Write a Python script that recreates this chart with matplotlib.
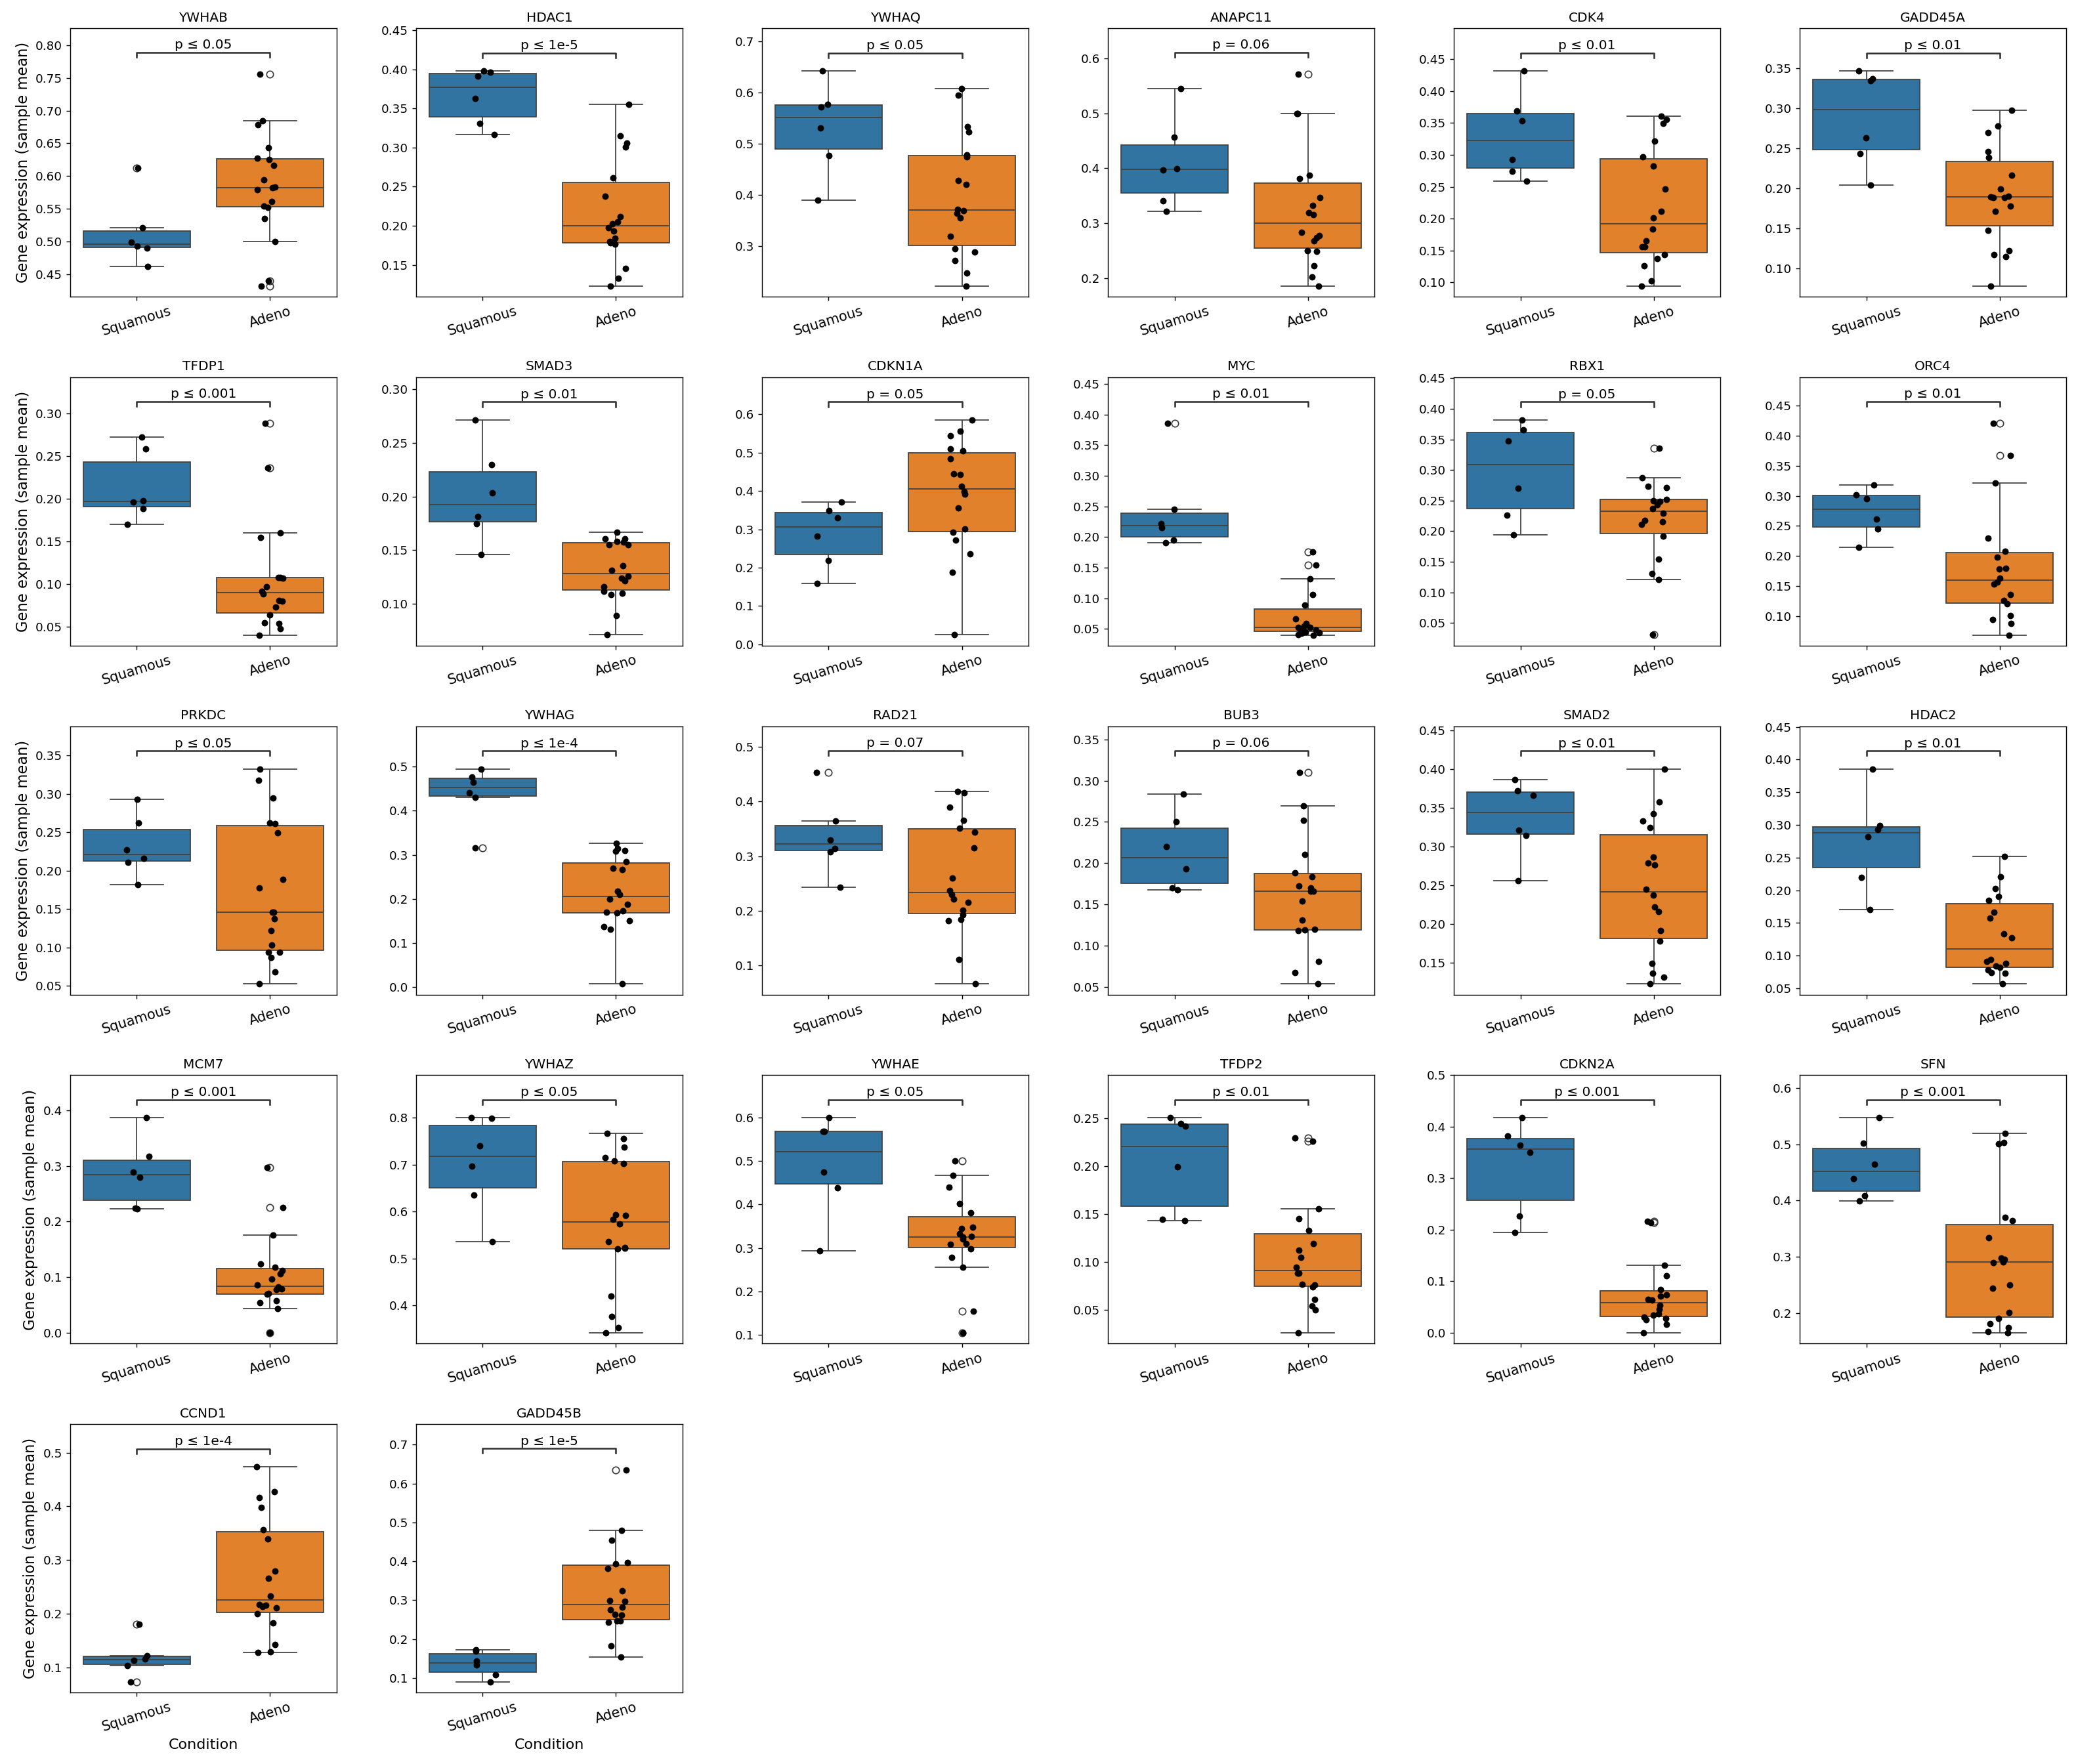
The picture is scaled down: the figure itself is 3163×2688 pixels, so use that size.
import numpy as np
import pandas as pd
import matplotlib
matplotlib.use('Agg')
import matplotlib.pyplot as plt
import seaborn as sns

# sample-mean expression per gene, 6 squamous and 18 adeno samples
YWHAB_SQ = [0.612, 0.521, 0.499, 0.493, 0.490, 0.462]
YWHAB_AD = [0.7556, 0.6844, 0.6786, 0.6437, 0.627, 0.625, 0.6166, 0.5946, 0.583, 0.5817,
            0.5793, 0.5614, 0.5539, 0.5522, 0.5353, 0.5003, 0.440, 0.432]
HDAC1_SQ = [0.398, 0.396, 0.391, 0.363, 0.331, 0.317]
HDAC1_AD = [0.355, 0.315, 0.3054, 0.3011, 0.2616, 0.2379, 0.2116, 0.205, 0.2023, 0.1972,
            0.1932, 0.1839, 0.1797, 0.1782, 0.1768, 0.1458, 0.1331, 0.1232]
YWHAQ_SQ = [0.642, 0.577, 0.571, 0.530, 0.476, 0.390]
YWHAQ_AD = [0.6074, 0.5944, 0.5329, 0.5229, 0.4775, 0.4745, 0.4277, 0.4199, 0.3714, 0.3693,
            0.3641, 0.355, 0.3186, 0.2948, 0.2883, 0.2719, 0.2472, 0.222]
ANAPC11_SQ = [0.5448, 0.456, 0.3996, 0.3964, 0.341, 0.3218]
ANAPC11_AD = [0.571, 0.500, 0.499, 0.3875, 0.3815, 0.347, 0.333, 0.3198, 0.3157, 0.2839,
              0.2778, 0.2738, 0.2685, 0.250, 0.2484, 0.2222, 0.202, 0.1859]
CDK4_SQ = [0.4319, 0.3693, 0.3536, 0.2927, 0.2743, 0.2586]
CDK4_AD = [0.3606, 0.3554, 0.3498, 0.3216, 0.2969, 0.283, 0.2464, 0.211, 0.2012, 0.1831,
           0.165, 0.1553, 0.1553, 0.1431, 0.1368, 0.1257, 0.1021, 0.0944]
GADD45A_SQ = [0.3467, 0.337, 0.3343, 0.2633, 0.2439, 0.2044]
GADD45A_AD = [0.2978, 0.2776, 0.2699, 0.2459, 0.239, 0.2169, 0.1994, 0.1906, 0.19, 0.189,
              0.1884, 0.1782, 0.1718, 0.1478, 0.1224, 0.1174, 0.1152, 0.0787]
TFDP1_SQ = [0.2723, 0.2583, 0.1979, 0.1961, 0.1889, 0.1702]
TFDP1_AD = [0.2886, 0.236, 0.1601, 0.1549, 0.1082, 0.1078, 0.1073, 0.0969, 0.0917, 0.0891,
            0.0813, 0.08, 0.0736, 0.064, 0.055, 0.0541, 0.0477, 0.0407]
SMAD3_SQ = [0.2714, 0.2298, 0.2034, 0.1814, 0.1746, 0.1457]
SMAD3_AD = [0.1667, 0.1608, 0.1608, 0.1581, 0.1575, 0.1554, 0.155, 0.1358, 0.1313, 0.1255,
            0.1241, 0.1216, 0.1163, 0.1117, 0.1097, 0.1087, 0.0891, 0.0712]
CDKN1A_SQ = [0.371, 0.349, 0.3305, 0.2826, 0.218, 0.1586]
CDKN1A_AD = [0.5856, 0.5567, 0.544, 0.5094, 0.5048, 0.4846, 0.4442, 0.443, 0.4125, 0.3992,
             0.3923, 0.3565, 0.3017, 0.2924, 0.2711, 0.2365, 0.1874, 0.0247]
MYC_SQ = [0.3859, 0.2454, 0.2213, 0.2158, 0.195, 0.1906]
MYC_AD = [0.1762, 0.1539, 0.1319, 0.1056, 0.0887, 0.066, 0.0588, 0.055, 0.0527, 0.052,
          0.050, 0.048, 0.0465, 0.0455, 0.044, 0.043, 0.0411, 0.0401]
RBX1_SQ = [0.3819, 0.3656, 0.3475, 0.2704, 0.2262, 0.1944]
RBX1_AD = [0.336, 0.2878, 0.273, 0.2715, 0.252, 0.250, 0.2491, 0.2433, 0.2368, 0.2295,
           0.2179, 0.2154, 0.2107, 0.1919, 0.1546, 0.1303, 0.1209, 0.0307]
ORC4_SQ = [0.3183, 0.3017, 0.2954, 0.2611, 0.2445, 0.2149]
ORC4_AD = [0.4209, 0.3673, 0.3212, 0.2297, 0.2076, 0.1983, 0.1799, 0.1788, 0.1633, 0.156,
           0.153, 0.1356, 0.1256, 0.1201, 0.1006, 0.0939, 0.0876, 0.0685]
PRKDC_SQ = [0.2928, 0.2625, 0.227, 0.2163, 0.2114, 0.1823]
PRKDC_AD = [0.3327, 0.3182, 0.2951, 0.2625, 0.2617, 0.2495, 0.1889, 0.1774, 0.1456, 0.1456,
            0.1375, 0.1219, 0.1029, 0.0942, 0.0937, 0.0873, 0.0685, 0.0527]
YWHAG_SQ = [0.495, 0.4769, 0.4648, 0.4407, 0.4307, 0.3161]
YWHAG_AD = [0.3261, 0.3141, 0.31, 0.309, 0.2849, 0.2698, 0.2673, 0.2171, 0.2106, 0.1995,
            0.1884, 0.1729, 0.1693, 0.1683, 0.1503, 0.1367, 0.1317, 0.0075]
RAD21_SQ = [0.4537, 0.364, 0.3298, 0.3144, 0.3083, 0.2433]
RAD21_AD = [0.418, 0.416, 0.3895, 0.3652, 0.3518, 0.3437, 0.3152, 0.2596, 0.2365, 0.23,
            0.2218, 0.2149, 0.2015, 0.1926, 0.1845, 0.1812, 0.1114, 0.0659]
BUB3_SQ = [0.2841, 0.2499, 0.2203, 0.1926, 0.1702, 0.1675]
BUB3_AD = [0.3102, 0.2693, 0.2518, 0.2101, 0.1885, 0.1837, 0.1724, 0.1697, 0.1662, 0.1657,
           0.1541, 0.1312, 0.1195, 0.1191, 0.118, 0.0809, 0.0669, 0.0534]
SMAD2_SQ = [0.3863, 0.3715, 0.3658, 0.3212, 0.3138, 0.2553]
SMAD2_AD = [0.40, 0.3572, 0.3421, 0.3329, 0.3244, 0.2864, 0.2787, 0.2758, 0.2444, 0.2373,
            0.2216, 0.2159, 0.191, 0.1773, 0.1487, 0.1359, 0.1308, 0.1225]
HDAC2_SQ = [0.3856, 0.2988, 0.2931, 0.2822, 0.2192, 0.17]
HDAC2_AD = [0.2514, 0.2208, 0.2022, 0.1903, 0.1846, 0.1659, 0.1575, 0.1337, 0.1269, 0.0941,
            0.0907, 0.088, 0.0839, 0.0819, 0.0778, 0.0744, 0.0727, 0.0568]
MCM7_SQ = [0.3864, 0.3173, 0.2885, 0.2793, 0.2246, 0.2234]
MCM7_AD = [0.2973, 0.2254, 0.1754, 0.1235, 0.1175, 0.1115, 0.1056, 0.0963, 0.0855, 0.0823,
           0.0795, 0.0775, 0.0703, 0.0695, 0.0575, 0.0547, 0.0436, 0.0]
YWHAZ_SQ = [0.80, 0.7986, 0.7404, 0.6968, 0.6362, 0.5359]
YWHAZ_AD = [0.7664, 0.756, 0.737, 0.7157, 0.7086, 0.7025, 0.5941, 0.5917, 0.5832, 0.5737,
            0.5359, 0.524, 0.5217, 0.5207, 0.4199, 0.3773, 0.3536, 0.3418]
YWHAE_SQ = [0.599, 0.5684, 0.5679, 0.475, 0.4383, 0.2929]
YWHAE_AD = [0.50, 0.4673, 0.4403, 0.402, 0.3806, 0.3474, 0.3449, 0.3321, 0.327, 0.3245,
            0.3204, 0.3102, 0.3092, 0.298, 0.2786, 0.2556, 0.1551, 0.1051]
TFDP2_SQ = [0.2507, 0.2449, 0.2419, 0.1998, 0.1448, 0.1432]
TFDP2_AD = [0.2299, 0.2265, 0.1559, 0.1455, 0.1332, 0.1194, 0.1124, 0.105, 0.0946, 0.0888,
            0.0884, 0.0773, 0.0761, 0.0745, 0.0611, 0.0542, 0.05, 0.0264]
CDKN2A_SQ = [0.4172, 0.3815, 0.3642, 0.35, 0.2263, 0.1948]
CDKN2A_AD = [0.2164, 0.2134, 0.1315, 0.1112, 0.084, 0.0741, 0.0711, 0.0647, 0.0638, 0.0539,
             0.0453, 0.0366, 0.0345, 0.0302, 0.028, 0.025, 0.0164, 0.0]
SFN_SQ = [0.5471, 0.5026, 0.4651, 0.4394, 0.4091, 0.3988]
SFN_AD = [0.5195, 0.5037, 0.5006, 0.3696, 0.3645, 0.3341, 0.2974, 0.2955, 0.2907, 0.2895,
          0.2501, 0.2442, 0.2008, 0.1897, 0.1811, 0.174, 0.1673, 0.1645]
CCND1_SQ = [0.1802, 0.1219, 0.1158, 0.1131, 0.1035, 0.0728]
CCND1_AD = [0.4737, 0.4277, 0.4168, 0.3979, 0.3567, 0.3392, 0.2788, 0.2665, 0.2328, 0.2174,
            0.2161, 0.2131, 0.2108, 0.1999, 0.1824, 0.1429, 0.1289, 0.1276]
GADD45B_SQ = [0.1725, 0.1694, 0.1434, 0.1332, 0.1077, 0.0896]
GADD45B_AD = [0.634, 0.4798, 0.4538, 0.3963, 0.3933, 0.3812, 0.3237, 0.2995, 0.2965, 0.2814,
              0.2753, 0.2632, 0.262, 0.2469, 0.2469, 0.2433, 0.1828, 0.1543]

genes = ['YWHAB', 'HDAC1', 'YWHAQ', 'ANAPC11', 'CDK4', 'GADD45A',
         'TFDP1', 'SMAD3', 'CDKN1A', 'MYC', 'RBX1', 'ORC4',
         'PRKDC', 'YWHAG', 'RAD21', 'BUB3', 'SMAD2', 'HDAC2',
         'MCM7', 'YWHAZ', 'YWHAE', 'TFDP2', 'CDKN2A', 'SFN',
         'CCND1', 'GADD45B']
p_labels = ['p ≤ 0.05', 'p ≤ 1e-5', 'p ≤ 0.05', 'p = 0.06', 'p ≤ 0.01', 'p ≤ 0.01',
            'p ≤ 0.001', 'p ≤ 0.01', 'p = 0.05', 'p ≤ 0.01', 'p = 0.05', 'p ≤ 0.01',
            'p ≤ 0.05', 'p ≤ 1e-4', 'p = 0.07', 'p = 0.06', 'p ≤ 0.01', 'p ≤ 0.01',
            'p ≤ 0.001', 'p ≤ 0.05', 'p ≤ 0.05', 'p ≤ 0.01', 'p ≤ 0.001', 'p ≤ 0.001',
            'p ≤ 1e-4', 'p ≤ 1e-5']
conditions = ['Squamous', 'Adeno']

squamous = [globals()[g + '_SQ'] for g in genes]
adeno = [globals()[g + '_AD'] for g in genes]


def is_top_flier(vals):
    q1, q3 = np.percentile(vals, [25, 75])
    return max(vals) > q3 + 1.5 * (q3 - q1)


def add_bracket(ax, sq, ad, label):
    allv = np.array(sq + ad)
    lo, hi = allv.min(), allv.max()
    h0 = 1.1 * (hi - lo)
    y0 = lo - 0.05 * (hi - lo)
    grp = sq if max(sq) >= max(ad) else ad
    off = 0.073 if is_top_flier(grp) else 0.056
    yb = hi + off * h0
    lh = 0.02 * h0
    ax.plot([0, 0, 1, 1], [yb, yb + lh, yb + lh, yb], color='0.2', lw=1.5)
    ax.annotate(label, xy=(0.5, yb + lh), xytext=(0, 1), textcoords='offset points',
                ha='center', va='bottom', fontsize=11.6)
    ax.set_ylim(y0, yb + lh + 0.1045 * h0)
    ax.set_xlim(-0.5, 1.5)


np.random.seed(3)
fig, axes = plt.subplots(5, 6, figsize=(3163 / 125, 2688 / 125))
fig.subplots_adjust(left=0.0338, right=0.9953, top=0.984, bottom=0.0405,
                    wspace=0.298, hspace=0.3007)

for i, gene in enumerate(genes):
    ax = axes[i // 6, i % 6]
    df = pd.DataFrame({'Condition': ['Squamous'] * len(squamous[i]) + ['Adeno'] * len(adeno[i]),
                       'value': squamous[i] + adeno[i]})
    sns.boxplot(data=df, x='Condition', y='value', hue='Condition', order=conditions,
                hue_order=conditions, palette=['#1f77b4', '#ff7f0e'], legend=False,
                fliersize=6, ax=ax)
    sns.stripplot(data=df, x='Condition', y='value', order=conditions, color='black',
                  size=5.7, jitter=0.1, ax=ax)
    add_bracket(ax, squamous[i], adeno[i], p_labels[i])
    ax.set_title(gene, fontsize=11.6)
    ax.set_xlabel('Condition' if i // 6 == 4 else '', fontsize=12.8)
    ax.set_ylabel('Gene expression (sample mean)' if i % 6 == 0 else '', fontsize=13)
    ax.tick_params(axis='y', labelsize=10.6)
    ax.tick_params(axis='x', labelsize=12)
    plt.setp(ax.get_xticklabels(), rotation=17)

for j in range(len(genes), 30):
    axes[j // 6, j % 6].axis('off')

fig.savefig('out.png', dpi=125)
